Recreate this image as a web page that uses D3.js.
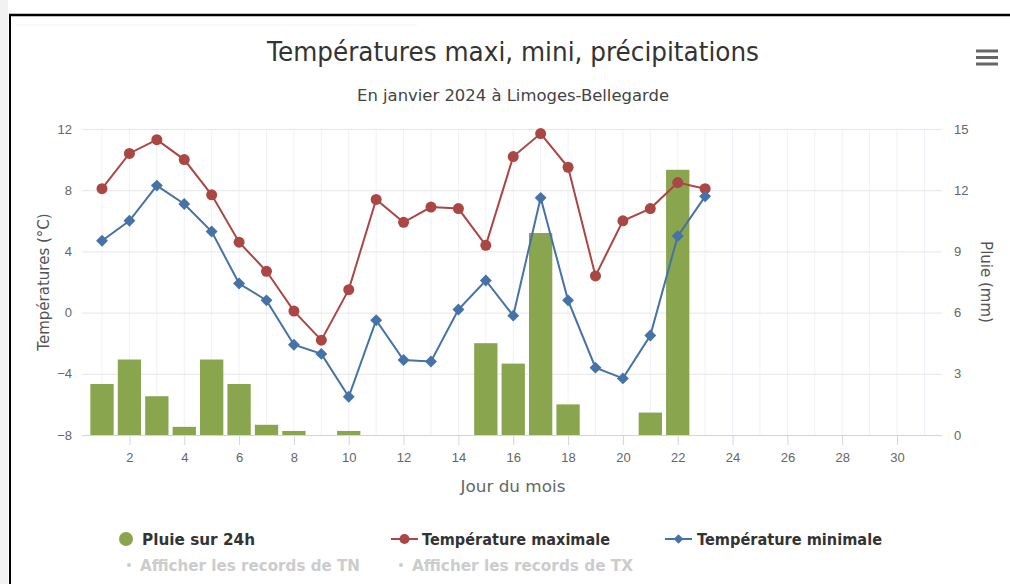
<!DOCTYPE html>
<html lang="fr">
<head>
    <meta charset="UTF-8">
    <script src="https://d3js.org/d3.v7.min.js"></script>
    <style>
        body { margin: 0; background: #fff; font-family: "DejaVu Sans", Verdana, sans-serif; }
        svg { display: block; }
        .tick text { fill: #666; font-size: 13px; }
        .grid line { stroke: #e6e6e6; }
        .vgrid line { stroke: #eef1f7; }
    </style>
</head>
<body>
<div id="chart"></div>
<script>
    // données : janvier 2024, Limoges-Bellegarde
    const jours = [1, 2, 3, 4, 5, 6, 7, 8, 9, 10, 11, 12, 13, 14, 15, 16, 17, 18, 19, 20, 21, 22, 23];
    const tempMax = [8.1, 10.4, 11.3, 10.0, 7.7, 4.6, 2.7, 0.1, -1.8, 1.5, 7.4, 5.9, 6.9, 6.8, 4.4, 10.2, 11.7, 9.5, 2.4, 6.0, 6.8, 8.5, 8.1];
    const tempMin = [4.7, 6.0, 8.3, 7.1, 5.3, 1.9, 0.8, -2.1, -2.7, -5.5, -0.5, -3.1, -3.2, 0.2, 2.1, -0.2, 7.5, 0.8, -3.6, -4.3, -1.5, 5.0, 7.6];
    const pluie = [2.5, 3.7, 1.9, 0.4, 3.7, 2.5, 0.5, 0.2, 0, 0.2, 0, 0, 0, 0, 4.5, 3.5, 9.9, 1.5, 0, 0, 1.1, 13.0, 0];
    const ticksJour = [2, 4, 6, 8, 10, 12, 14, 16, 18, 20, 22, 24, 26, 28, 30];
    const ticksTemp = [-8, -4, 0, 4, 8, 12];
    const ticksPluie = [0, 3, 6, 9, 12, 15];

    const W = 1010, H = 584;
    const plot = {left: 82, right: 942, top: 129, bottom: 435};

    const svg = d3.select("#chart").append("svg")
        .attr("width", W).attr("height", H);

    // cadre de la capture
    svg.append("rect").attr("x", 0).attr("y", 0).attr("width", 8).attr("height", H).attr("fill", "#f2f2f2");
    svg.append("line").attr("x1", 9).attr("x2", W).attr("y1", 15).attr("y2", 15).attr("stroke", "#000").attr("stroke-width", 2.5);
    svg.append("line").attr("x1", 10).attr("x2", 10).attr("y1", 14).attr("y2", H).attr("stroke", "#000").attr("stroke-width", 2);
    svg.append("line").attr("x1", 16).attr("x2", 417).attr("y1", 25).attr("y2", 25).attr("stroke", "#eef3fb").attr("stroke-width", 1);

    const x = d3.scaleLinear().domain([0.27, 31.64]).range([plot.left, plot.right]);
    const yT = d3.scaleLinear().domain([-8, 12]).range([plot.bottom, plot.top]);
    const yP = d3.scaleLinear().domain([0, 15]).range([plot.bottom, plot.top]);

    // grille verticale (chaque jour)
    svg.append("g").attr("class", "vgrid")
        .selectAll("line").data(d3.range(1, 32)).join("line")
        .attr("x1", d => x(d)).attr("x2", d => x(d))
        .attr("y1", plot.top).attr("y2", plot.bottom);

    // grille horizontale + axe gauche
    const gLeft = svg.append("g").attr("class", "grid")
        .attr("transform", `translate(${plot.left},0)`)
        .call(d3.axisLeft(yT).tickValues(ticksTemp).tickSize(-(plot.right - plot.left)).tickPadding(8));
    gLeft.select(".domain").remove();
    gLeft.selectAll(".tick text").attr("dx", -2);

    // axe droit
    const gRight = svg.append("g")
        .attr("transform", `translate(${plot.right},0)`)
        .call(d3.axisRight(yP).tickValues(ticksPluie).tickSize(0).tickPadding(12));
    gRight.select(".domain").remove();

    // barres de pluie
    const bw = (x(1) - x(0)) * 0.85;
    svg.append("g").selectAll("rect").data(jours.filter((d, i) => pluie[i] > 0)).join("rect")
        .attr("x", d => x(d) - bw / 2)
        .attr("y", d => yP(pluie[d - 1]))
        .attr("width", bw)
        .attr("height", d => plot.bottom - yP(pluie[d - 1]))
        .attr("fill", "#89a54e");

    // axe du bas
    const gBottom = svg.append("g")
        .attr("transform", `translate(0,${plot.bottom})`)
        .call(d3.axisBottom(x).tickValues(ticksJour).tickSize(10).tickPadding(8).tickFormat(d3.format("d")));
    gBottom.select(".domain").attr("stroke", "#ccd6eb").attr("d", `M${plot.left},0.5H${plot.right}`);
    gBottom.selectAll(".tick line").attr("stroke", "#ccd6eb");

    // courbes
    const lineMax = d3.line().x(d => x(d)).y((d, i) => yT(tempMax[i]));
    const lineMin = d3.line().x(d => x(d)).y((d, i) => yT(tempMin[i]));
    svg.append("path").datum(jours).attr("d", lineMax)
        .attr("fill", "none").attr("stroke", "#aa4643").attr("stroke-width", 2);
    svg.append("g").selectAll("circle").data(jours).join("circle")
        .attr("cx", d => x(d)).attr("cy", (d, i) => yT(tempMax[i]))
        .attr("r", 5.5).attr("fill", "#aa4643");
    svg.append("path").datum(jours).attr("d", lineMin)
        .attr("fill", "none").attr("stroke", "#4572a7").attr("stroke-width", 2);
    const diamond = d3.symbol().type(d3.symbolDiamond2).size(90);
    svg.append("g").selectAll("path").data(jours).join("path")
        .attr("transform", (d, i) => `translate(${x(d)},${yT(tempMin[i])})`)
        .attr("d", diamond).attr("fill", "#4572a7");

    // titres
    svg.append("text").attr("x", 513).attr("y", 61).attr("text-anchor", "middle")
        .attr("font-family", "'Liberation Sans Narrow', 'DejaVu Sans', sans-serif")
        .attr("font-size", 26).attr("fill", "#333").attr("textLength", 492).attr("lengthAdjust", "spacingAndGlyphs")
        .text("Températures maxi, mini, précipitations");
    svg.append("text").attr("x", 513).attr("y", 101).attr("text-anchor", "middle")
        .attr("font-size", 15).attr("fill", "#444").attr("textLength", 312).attr("lengthAdjust", "spacingAndGlyphs")
        .text("En janvier 2024 à Limoges-Bellegarde");
    svg.append("text").attr("x", 513).attr("y", 492).attr("text-anchor", "middle")
        .attr("font-size", 15).attr("fill", "#666").attr("textLength", 105).attr("lengthAdjust", "spacingAndGlyphs")
        .text("Jour du mois");
    svg.append("text").attr("transform", "translate(49,282) rotate(-90)").attr("text-anchor", "middle")
        .attr("font-size", 15).attr("fill", "#555")
        .text("Températures (°C)");
    svg.append("text").attr("transform", "translate(981,282) rotate(90)").attr("text-anchor", "middle")
        .attr("font-size", 15).attr("fill", "#555")
        .text("Pluie (mm)");

    // menu
    svg.append("g").selectAll("line").data([0, 1, 2]).join("line")
        .attr("x1", 976).attr("x2", 998)
        .attr("y1", d => 51 + d * 6.5).attr("y2", d => 51 + d * 6.5)
        .attr("stroke", "#666").attr("stroke-width", 3);

    // légende
    const leg = svg.append("g").attr("font-size", 15).attr("font-weight", "bold").attr("lengthAdjust", "spacingAndGlyphs");
    leg.append("circle").attr("cx", 126).attr("cy", 539).attr("r", 7).attr("fill", "#89a54e");
    leg.append("text").attr("x", 142).attr("y", 545).attr("fill", "#333").attr("textLength", 113)
        .attr("lengthAdjust", "spacingAndGlyphs").text("Pluie sur 24h");
    leg.append("line").attr("x1", 391).attr("x2", 418).attr("y1", 539).attr("y2", 539).attr("stroke", "#aa4643").attr("stroke-width", 2);
    leg.append("circle").attr("cx", 404.5).attr("cy", 539).attr("r", 5).attr("fill", "#aa4643");
    leg.append("text").attr("x", 422).attr("y", 545).attr("fill", "#333").attr("textLength", 188)
        .attr("lengthAdjust", "spacingAndGlyphs").text("Température maximale");
    leg.append("line").attr("x1", 665).attr("x2", 692).attr("y1", 539).attr("y2", 539).attr("stroke", "#4572a7").attr("stroke-width", 2);
    leg.append("path").attr("transform", "translate(678.5,539)").attr("d", d3.symbol().type(d3.symbolDiamond2).size(60)).attr("fill", "#4572a7");
    leg.append("text").attr("x", 697).attr("y", 545).attr("fill", "#333").attr("textLength", 185)
        .attr("lengthAdjust", "spacingAndGlyphs").text("Température minimale");

    const leg2 = svg.append("g").attr("font-size", 15).attr("font-weight", "bold").attr("fill", "#cccccc");
    leg2.append("circle").attr("cx", 129).attr("cy", 565).attr("r", 2);
    leg2.append("text").attr("x", 140).attr("y", 571).attr("textLength", 220)
        .attr("lengthAdjust", "spacingAndGlyphs").text("Afficher les records de TN");
    leg2.append("circle").attr("cx", 401).attr("cy", 565).attr("r", 2);
    leg2.append("text").attr("x", 412).attr("y", 571).attr("textLength", 221)
        .attr("lengthAdjust", "spacingAndGlyphs").text("Afficher les records de TX");
</script>
</body>
</html>
